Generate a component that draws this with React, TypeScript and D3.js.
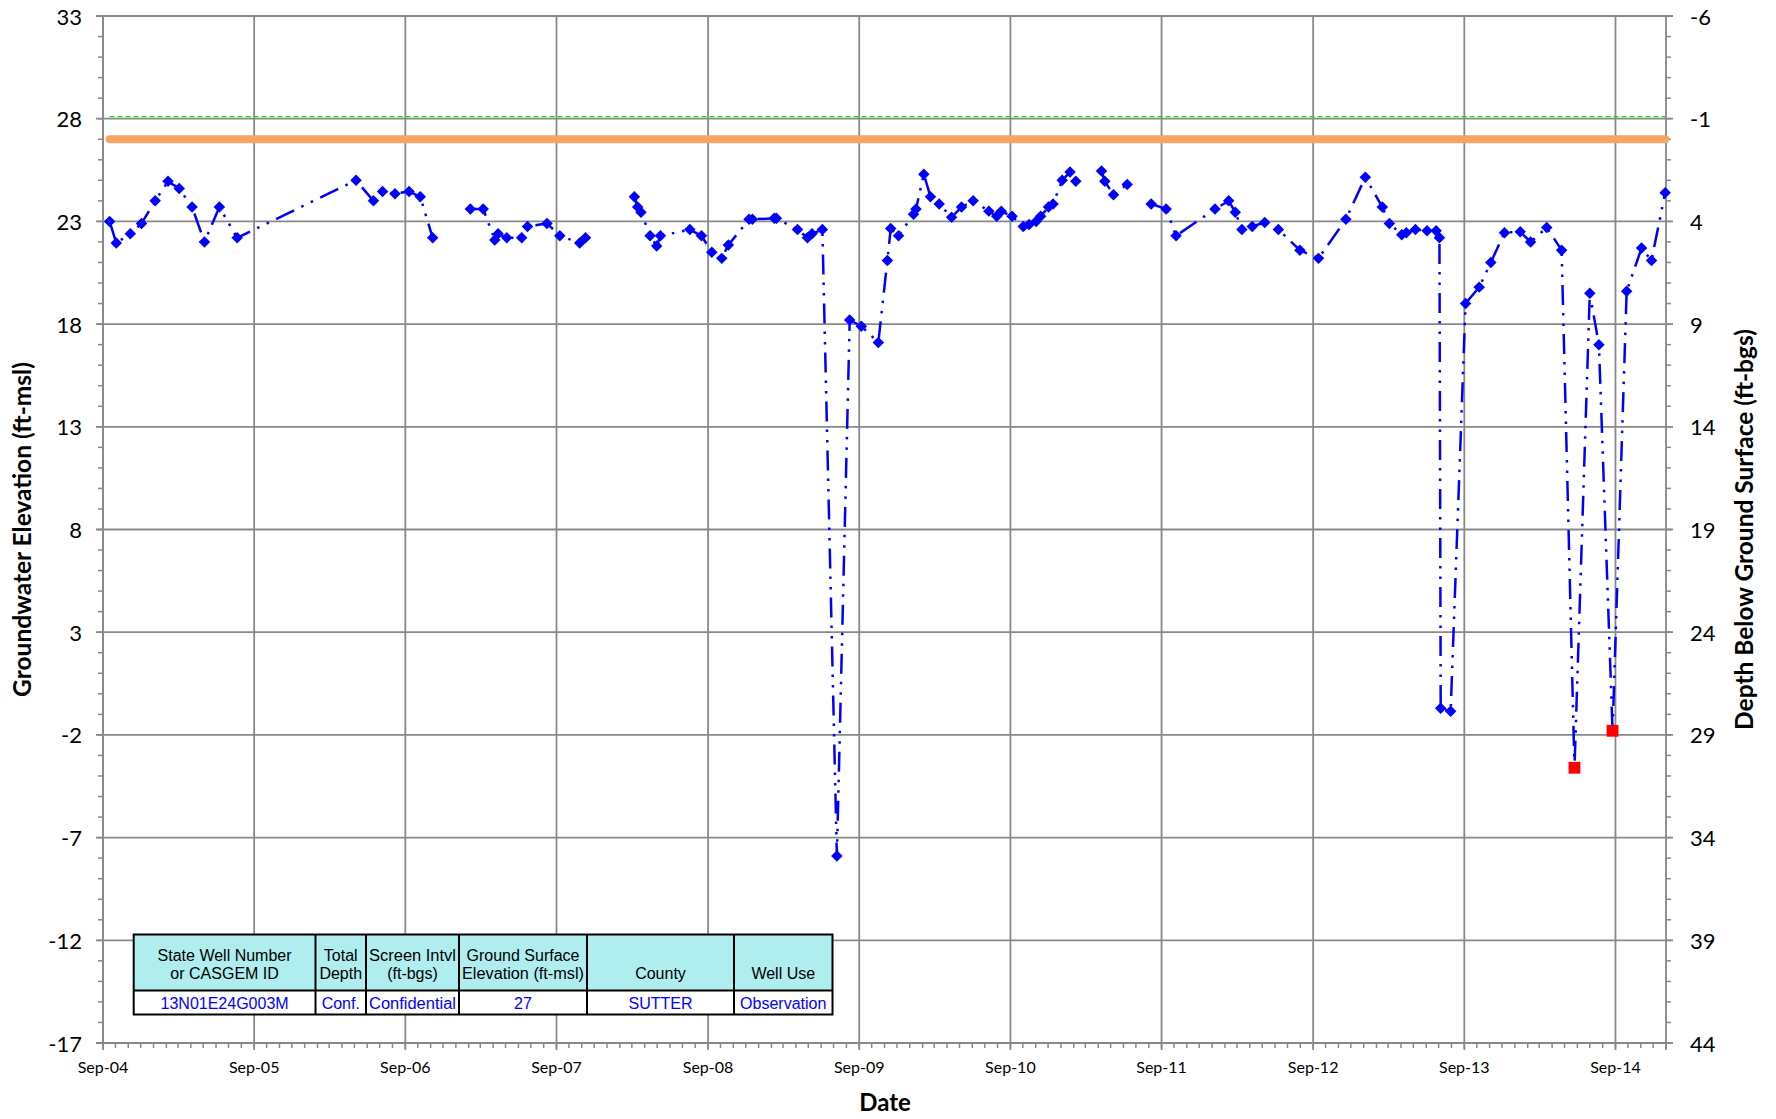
import * as d3 from "d3";

// measurement dates and groundwater elevations (ft-msl); null = no reading, line breaks
const sampleDates = [
  "2004-09-17", "2004-10-03", "2004-11-06", "2004-12-03", "2005-01-05", "2005-02-05",
  "2005-03-04", "2005-04-04", "2005-05-04", "2005-06-09", "2005-07-22", "2006-05-05",
  "2006-06-16", "2006-07-08", "2006-08-07", "2006-09-10", "2006-10-07", "2006-11-06",
  "2006-12-20",
  "2007-02-05", "2007-03-08", "2007-04-05", "2007-04-13", "2007-05-04", "2007-06-09",
  "2007-06-23", "2007-08-09", "2007-09-09", "2007-10-27", "2007-11-10",
  "2008-01-15",
  "2008-03-07", "2008-03-15", "2008-03-23", "2008-04-14", "2008-04-30", "2008-05-09",
  "2008-07-19", "2008-08-16", "2008-09-10", "2008-10-04", "2008-10-20", "2008-12-09",
  "2008-12-17", "2009-02-08", "2009-02-13", "2009-04-05", "2009-04-29", "2009-05-10",
  "2009-06-04", "2009-07-09", "2009-08-09", "2009-09-06", "2009-10-17", "2009-11-08",
  "2009-11-16", "2009-12-05", "2010-01-10", "2010-01-16", "2010-02-04", "2010-02-20",
  "2010-03-13", "2010-04-12", "2010-05-06", "2010-06-03", "2010-07-11", "2010-07-30",
  "2010-08-10", "2010-09-05", "2010-10-02", "2010-10-16", "2010-11-02", "2010-11-13",
  "2010-12-02", "2010-12-13", "2011-01-04", "2011-01-23", "2011-02-06",
  "2011-03-10",
  "2011-04-09", "2011-04-17", "2011-05-08", "2011-06-10",
  "2011-07-10",
  "2011-08-07", "2011-09-12", "2011-10-06", "2012-01-08", "2012-02-10", "2012-02-26",
  "2012-03-13", "2012-04-07", "2012-05-07", "2012-06-09", "2012-07-31", "2012-09-14",
  "2012-11-19", "2013-01-05", "2013-02-15", "2013-03-04", "2013-04-03", "2013-04-14",
  "2013-05-06", "2013-06-03", "2013-06-25", "2013-07-03", "2013-07-06", "2013-07-30",
  "2013-09-04", "2013-10-07", "2013-11-04", "2013-12-07", "2014-01-14", "2014-02-08",
  "2014-03-19", "2014-04-24", "2014-05-25", "2014-07-01", "2014-07-23", "2014-08-25",
  "2014-09-28", "2014-11-03", "2014-11-27", "2014-12-30",
];

const elevations: (number | null)[] = [
  23.0, 21.95, 22.4, 22.9, 24.0, 24.95,
  24.6, 23.7, 22.0, 23.7, 22.2, 25.0,
  24.0, 24.45, 24.35, 24.45, 24.2, 22.2,
  null,
  23.6, 23.6, 22.1, 22.4, 22.2, 22.2,
  22.75, 22.9, 22.3, 21.95, 22.2,
  null,
  24.2, 23.7, 23.45, 22.3, 21.8, 22.3,
  22.6, 22.3, 21.5, 21.2, 21.85, 23.1,
  23.1, 23.15, 23.15, 22.6, 22.2, 22.4,
  22.6, -7.9, 18.2, 17.9, 17.1, 21.1,
  22.65, 22.3, 23.35, 23.6, 25.3, 24.2,
  23.85, 23.2, 23.7, 24.0, 23.5, 23.25,
  23.5, 23.25, 22.75, 22.85, 23.0, 23.25,
  23.7, 23.85, 25.0, 25.4, 24.95,
  null,
  25.45, 24.95, 24.3, 24.8,
  null,
  23.85, 23.6, 22.3, 23.6, 24.0, 23.45,
  22.6, 22.75, 22.95, 22.6, 21.6, 21.2,
  23.1, 25.15, 23.7, 22.9, 22.35, 22.45,
  22.6, 22.55, 22.55, 22.2, -0.7, -0.85,
  19.0, 19.8, 21.0, 22.45, 22.5, 22.0,
  22.7, 21.6, -3.6, 19.5, 17.0, -1.8,
  19.6, 21.7, 21.1, 24.4,
];

// readings marked with red squares
const flaggedDates = ["2014-05-25", "2014-08-25"];

const yearTicks = [
  "2004-09-01", "2005-09-01", "2006-09-01", "2007-09-01", "2008-09-01", "2009-09-01",
  "2010-09-01", "2011-09-01", "2012-09-01", "2013-09-01", "2014-09-01",
];
const dateDomain = ["2004-09-01", "2015-01-01"];
const elevTicks = [33, 28, 23, 18, 13, 8, 3, -2, -7, -12, -17];
const groundSurface = 27;
const referenceLevel = 28.1;

const tableHeaders = [
  ["State Well Number", "or CASGEM ID"],
  ["Total", "Depth"],
  ["Screen Intvl", "(ft-bgs)"],
  ["Ground Surface", "Elevation (ft-msl)"],
  ["County"],
  ["Well Use"],
];
const tableValues = ["13N01E24G003M", "Conf.", "Confidential", "27", "SUTTER", "Observation"];

const W = 1776;
const H = 1119;
const left = 103;
const right = 1666;
const top = 16;
const bottom = 1043;

const gridColor = "#898989";
const tickFont = "Lato, 'Open Sans', sans-serif";

export default function App() {
  const parse = (s: string) => new Date(s + "T00:00:00Z");
  const x = d3.scaleUtc().domain(dateDomain.map(parse)).range([left, right]);
  const y = d3.scaleLinear().domain([-17, 33]).range([bottom, top]);
  const yDepth = d3.scaleLinear().domain([44, -6]).range([bottom, top]);

  const data = sampleDates.map((d, i) => ({ date: parse(d), v: elevations[i], key: d }));
  const measured = data.filter(d => d.v !== null) as { date: Date; v: number; key: string }[];

  const line = d3.line<{ date: Date; v: number | null }>()
    .defined(d => d.v !== null)
    .x(d => x(d.date))
    .y(d => y(d.v as number));

  const diamond = d3.symbol(d3.symbolSquare, 66)();
  const square = d3.symbol(d3.symbolSquare, 140)();

  const months = d3.utcMonth.range(parse(dateDomain[0]), d3.utcDay.offset(parse(dateDomain[1]), 1));
  const minorY = d3.range(-17, 34, 1);
  const fmt = d3.utcFormat("%b-%y");

  const firstX = x(measured[0].date);
  const lastX = x(measured[measured.length - 1].date);

  const colEdges = [133.7, 315.5, 366, 459, 587, 734, 832.5];
  const tTop = 934.5;
  const tMid = 990.5;
  const tBot = 1014.5;
  // squeeze a label only when it would not fit its cell
  const fit = (s: string, i: number) => {
    const w = colEdges[i + 1] - colEdges[i] - 6;
    return s.length * 8 > w ? w : undefined;
  };

  return (
    <svg width={W} height={H} style={{ position: "absolute", left: 0, top: 0, background: "#fff" }}>
      {/* gridlines */}
      <g stroke={gridColor} strokeWidth={1.8}>
        {elevTicks.map(t => (
          <line key={"gy" + t} x1={left - 7} x2={right + 7} y1={y(t)} y2={y(t)} />
        ))}
        {yearTicks.map(t => (
          <line key={"gx" + t} x1={x(parse(t))} x2={x(parse(t))} y1={top} y2={bottom + 7} />
        ))}
        <line x1={left} x2={left} y1={top} y2={bottom} />
        <line x1={right} x2={right} y1={top} y2={bottom + 7} />
      </g>

      {/* minor ticks */}
      <g stroke={gridColor} strokeWidth={1.5}>
        {minorY.map(v => (
          <line key={"ml" + v} x1={left - 5} x2={left} y1={y(v)} y2={y(v)} />
        ))}
        {minorY.map(v => (
          <line key={"mr" + v} x1={right} x2={right + 5} y1={y(v)} y2={y(v)} />
        ))}
        {months.map(m => (
          <line key={"mx" + m.getTime()} x1={x(m)} x2={x(m)} y1={bottom} y2={bottom + 5} />
        ))}
      </g>

      {/* reference lines */}
      <line x1={firstX} x2={lastX} y1={y(referenceLevel)} y2={y(referenceLevel)}
        stroke="#00E600" strokeWidth={1.4} strokeDasharray="5 3" />
      <line x1={firstX} x2={lastX} y1={y(groundSurface)} y2={y(groundSurface)}
        stroke="#F5A462" strokeWidth={8} strokeLinecap="round" />

      {/* series */}
      <path d={line(data) || ""} fill="none" stroke="#0000FF" strokeWidth={2.5}
        strokeDasharray="20 8 2.5 8 2.5 8" />
      <g>
        {measured.map(d =>
          flaggedDates.includes(d.key) ? (
            <path key={d.key} d={square || ""} fill="#FF0000"
              transform={`translate(${x(d.date)},${y(d.v)})`} />
          ) : (
            <path key={d.key} d={diamond || ""} fill="#0000FF"
              transform={`translate(${x(d.date)},${y(d.v)}) rotate(45)`} />
          )
        )}
      </g>

      {/* axis labels */}
      <g fontFamily={tickFont} fontSize={22} fill="#000">
        {elevTicks.map(t => (
          <text key={"ly" + t} x={82} y={y(t)} textAnchor="end" dominantBaseline="central">{t}</text>
        ))}
        {elevTicks.map(t => (
          <text key={"ry" + t} x={1690} y={yDepth(groundSurface - t)} dominantBaseline="central">
            {groundSurface - t}
          </text>
        ))}
      </g>
      <g fontFamily={tickFont} fontSize={16} fill="#000">
        {yearTicks.map(t => (
          <text key={"lx" + t} x={x(parse(t))} y={1073} textAnchor="middle">{fmt(parse(t))}</text>
        ))}
      </g>

      {/* titles */}
      <g fontFamily={tickFont} fontWeight="bold" fill="#000">
        <text x={885} y={1111} fontSize={24} textAnchor="middle">Date</text>
        <text transform={`translate(31,${(top + bottom) / 2}) rotate(-90)`} fontSize={24.5}
          textAnchor="middle">Groundwater Elevation (ft-msl)</text>
        <text transform={`translate(1753,${(top + bottom) / 2}) rotate(-90)`} fontSize={24.5}
          textAnchor="middle">Depth Below Ground Surface (ft-bgs)</text>
      </g>

      {/* well info table */}
      <g fontFamily="'Liberation Sans', Arial, sans-serif" fontSize={16}>
        <rect x={colEdges[0]} y={tTop} width={colEdges[6] - colEdges[0]} height={tMid - tTop} fill="#AFEDEE" />
        <rect x={colEdges[0]} y={tMid} width={colEdges[6] - colEdges[0]} height={tBot - tMid} fill="#fff" />
        {tableHeaders.map((h, i) => {
          const cx = (colEdges[i] + colEdges[i + 1]) / 2;
          const lines = h.length === 1 ? ["", h[0]] : h;
          return (
            <g key={"th" + i}>
              {lines.map((s, j) => (
                <text key={j} x={cx} y={955 + j * 18} textAnchor="middle" dominantBaseline="central"
                  fill="#000" textLength={fit(s, i)} lengthAdjust="spacingAndGlyphs">{s}</text>
              ))}
              <text x={cx} y={1003} textAnchor="middle" dominantBaseline="central" fill="#0000FF"
                textLength={fit(tableValues[i], i)} lengthAdjust="spacingAndGlyphs">{tableValues[i]}</text>
            </g>
          );
        })}
        <g stroke="#000" strokeWidth={2} fill="none">
          <rect x={colEdges[0]} y={tTop} width={colEdges[6] - colEdges[0]} height={tBot - tTop} />
          <line x1={colEdges[0]} x2={colEdges[6]} y1={tMid} y2={tMid} />
          {colEdges.slice(1, -1).map(c => (
            <line key={"c" + c} x1={c} x2={c} y1={tTop} y2={tBot} />
          ))}
        </g>
      </g>
    </svg>
  );
}
